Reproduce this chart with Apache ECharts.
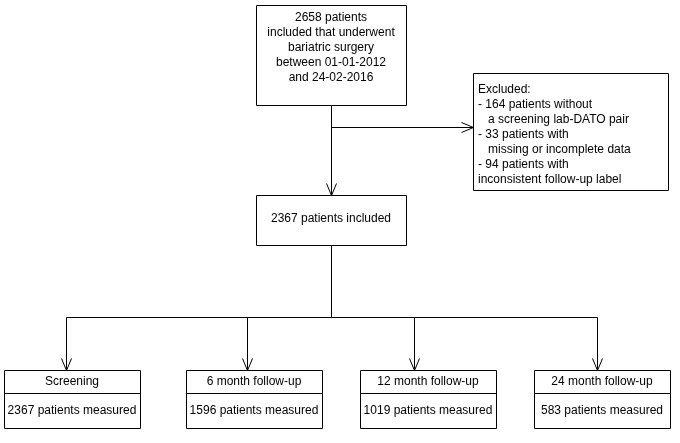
<!DOCTYPE html>
<html lang="en">
<head>
  <meta charset="UTF-8">
  <title>Flow chart</title>
  <script src="https://cdn.jsdelivr.net/npm/echarts@6.0.0/dist/echarts.min.js"></script>
  <style>
    html, body { margin: 0; padding: 0; background: #fff; }
    #chart { width: 680px; height: 443px; }
  </style>
</head>
<body>
  <div id="chart"></div>
  <script>
    // flow chart texts
    const topText = ['2658 patients', 'included that underwent', 'bariatric surgery', 'between 01-01-2012', 'and 24-02-2016'];
    const excludedText = ['Excluded:', '- 164 patients without', '  a screening lab-DATO pair', '- 33 patients with', '  missing or incomplete data', '- 94 patients with', 'inconsistent follow-up label'];
    const includedText = '2367 patients included';
    const stageNames = ['Screening', '6 month follow-up', '12 month follow-up', '24 month follow-up'];
    const stageCounts = [2367, 1596, 1019, 583];

    const font = '12px "Liberation Sans", Arial, sans-serif';
    const line = { stroke: '#000', lineWidth: 1, fill: null };
    const els = [];

    function box(x, y, w, h) {
      els.push({ type: 'rect', shape: { x: x + 0.5, y: y + 0.5, width: w, height: h }, style: { stroke: '#000', fill: '#fff', lineWidth: 1 } });
    }
    function seg(x1, y1, x2, y2) {
      els.push({ type: 'line', shape: { x1: x1 + 0.5, y1: y1 + 0.5, x2: x2 + 0.5, y2: y2 + 0.5 }, style: line });
    }
    function text(x, y, s, align) {
      els.push({ type: 'text', x: x, y: y, style: { text: s, font: font, fill: '#000', align: align || 'center', verticalAlign: 'middle' } });
    }
    // arrow heads: down or right, tip at (x,y)
    function arrowDown(x, y) { seg(x - 5, y - 12, x, y); seg(x + 5, y - 12, x, y); }
    function arrowRight(x, y) { seg(x - 12, y - 5, x, y); seg(x - 12, y + 5, x, y); }

    // connectors
    seg(331, 105, 331, 195); arrowDown(331, 195);
    seg(331, 127, 473, 127); arrowRight(473, 127);
    seg(331, 245, 331, 317);
    const stageX = [66, 247, 414, 597];
    const boxX = [4, 186, 360, 534];
    const boxW = 136;
    seg(stageX[0], 317, stageX[3], 317);
    stageX.forEach(x => { seg(x, 317, x, 370); arrowDown(x, 370); });

    // top box
    box(256, 5, 150, 100);
    topText.forEach((s, i) => text(331, 18 + i * 15, s));
    // excluded box
    box(473, 73, 195, 117);
    excludedText.forEach((s, i) => text(478, 90 + i * 15, s.replace(/^  /, '\u00a0\u00a0\u00a0'), 'left'));
    // included box
    box(256, 195, 150, 50);
    text(331, 219, includedText);
    // stage boxes
    stageNames.forEach((n, i) => {
      box(boxX[i], 370, boxW, 58);
      seg(boxX[i], 393, boxX[i] + boxW, 393);
      text(boxX[i] + boxW / 2, 382, n);
      text(boxX[i] + boxW / 2, 411, stageCounts[i] + ' patients measured');
    });

    const chart = echarts.init(document.getElementById('chart'));
    chart.setOption({ animation: false, graphic: { elements: els } });
  </script>
</body>
</html>
